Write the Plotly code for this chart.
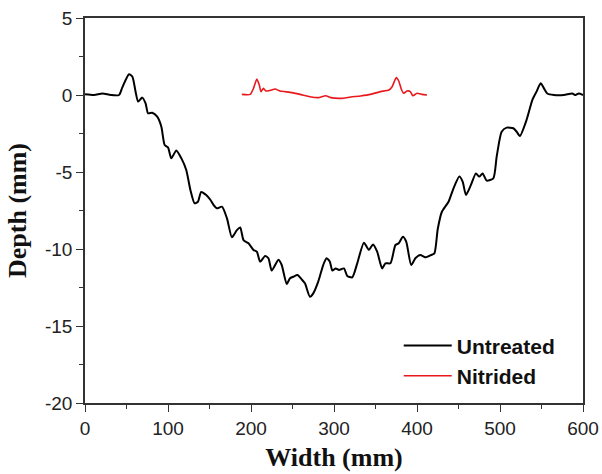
import plotly.graph_objects as go

untreated_x = [0, 11, 21, 31, 41, 45, 53, 57, 61, 64, 69, 73, 76, 81, 87, 92, 96, 100, 104, 110,
               116, 122, 127, 132, 136, 140, 146, 151, 155, 159, 165, 171, 177, 183, 187, 191, 197,
               203, 207, 211, 217, 221, 225, 233, 237, 243, 247, 251, 256, 261, 265, 271, 275, 281,
               287, 291, 295, 298, 302, 306, 312, 316, 322, 328, 336, 342, 347, 352, 358, 362, 368,
               374, 378, 383, 387, 393, 398, 404, 410, 417, 421, 425, 430, 438, 444, 451, 455, 459,
               465, 471, 475, 479, 484, 492, 496, 502, 508, 516, 520, 524, 532, 539, 544, 549, 553,
               557, 565, 577, 587, 591, 595, 600]
untreated_y = [0.05, 0.0, 0.1, 0.0, 0.0, 0.5, 1.35, 1.2, 0.2, -0.43, -0.17, -0.54, -1.19, -1.15,
               -1.41, -2.06, -3.25, -3.4, -4.11, -3.6, -4.1, -4.87, -6.17, -7.03, -6.93, -6.3, -6.5,
               -6.8, -7.15, -7.36, -7.25, -8.0, -9.24, -8.77, -8.6, -9.42, -9.63, -10.06, -10.17,
               -10.82, -10.45, -10.6, -11.4, -10.7, -11.04, -12.27, -11.9, -11.8, -11.69, -11.97,
               -12.23, -13.1, -12.88, -12.12, -11.04, -10.6, -10.82, -11.4, -11.26, -11.36, -11.26,
               -11.75, -11.84, -10.93, -9.59, -10.06, -9.7, -10.17, -11.26, -10.93, -10.93, -9.74,
               -9.63, -9.2, -9.52, -11.04, -10.6, -10.39, -10.54, -10.39, -10.28, -8.7, -7.58, -6.93,
               -6.06, -5.3, -5.63, -6.49, -5.84, -5.09, -5.3, -5.09, -5.56, -5.41, -4.0, -2.38, -2.12,
               -2.16, -2.38, -2.66, -1.62, -0.32, 0.22, 0.76, 0.43, 0.1, 0.0, 0.0, 0.1, 0.0, 0.1, 0.0]

nitrided_x = [189, 199, 203, 207, 210, 212, 215, 218, 223, 229, 235, 247, 259, 271, 281, 290, 296,
              308, 320, 332, 344, 356, 366, 370, 375, 378, 381, 384, 388, 392, 395, 400, 406, 412]
nitrided_y = [0.04, 0.04, 0.43, 1.04, 0.65, 0.22, 0.43, 0.26, 0.3, 0.39, 0.26, 0.17, 0.04, -0.11,
              -0.17, -0.05, -0.17, -0.22, -0.13, -0.06, 0.04, 0.22, 0.32, 0.54, 1.13, 0.91, 0.39,
              0.11, 0.26, 0.22, -0.05, 0.11, 0.04, 0.0]

x_ticks = [0, 100, 200, 300, 400, 500, 600]
x_labels = ["0", "100", "200", "300", "400", "500", "600"]
y_ticks = [5, 0, -5, -10, -15, -20]
y_labels = ["5", "0", "-5", "-10", "-15", "-20"]

fig = go.Figure()
fig.add_trace(go.Scatter(x=untreated_x, y=untreated_y, mode="lines", name="<b>Untreated</b>",
                         legendgroup="a",
                         line=dict(color="black", width=2, shape="spline", smoothing=0.6)))
fig.add_trace(go.Scatter(x=nitrided_x, y=nitrided_y, mode="lines", name="<b>Nitrided</b>",
                         legendgroup="b",
                         line=dict(color="#e8191c", width=1.6, shape="spline", smoothing=0.5)))

axis_common = dict(showline=True, linecolor="#333", linewidth=1.5, mirror=True,
                   showgrid=False, zeroline=False, ticks="outside", ticklen=7,
                   tickwidth=1.3, tickcolor="#333", automargin=False,
                   ticklabeloverflow="allow",
                   tickfont=dict(family="Liberation Sans, Arial", size=19, color="#222"))

fig.update_layout(
    width=602, height=474,
    margin=dict(l=85, r=19, t=18, b=71),
    paper_bgcolor="white", plot_bgcolor="white",
    showlegend=True,
    legend=dict(x=0.63, y=0.202, xanchor="left", yanchor="top",
                bgcolor="rgba(0,0,0,0)", traceorder="grouped", tracegroupgap=0,
                font=dict(family="Liberation Sans, Arial", size=21, color="#111"),
                itemwidth=48),
    xaxis=dict(range=[0, 600], tickvals=x_ticks, ticktext=x_labels,
               minor=dict(dtick=50, ticks="outside", ticklen=4, tickcolor="#333", tickwidth=1.2),
               title=dict(text="<b>Width (mm)</b>", standoff=10,
                          font=dict(family="Liberation Serif, Times New Roman", size=26, color="#111")),
               **axis_common),
    yaxis=dict(range=[-20, 5], tickvals=y_ticks, ticktext=y_labels,
               minor=dict(dtick=2.5, ticks="outside", ticklen=4, tickcolor="#333", tickwidth=1.2),
               title=dict(text="<b>Depth (mm)</b>", standoff=11,
                          font=dict(family="Liberation Serif, Times New Roman", size=26, color="#111")),
               **axis_common),
)

fig.write_html("out.html", config={"displayModeBar": False},
               post_script="document.body.style.margin='0';document.body.style.overflow='hidden';")
